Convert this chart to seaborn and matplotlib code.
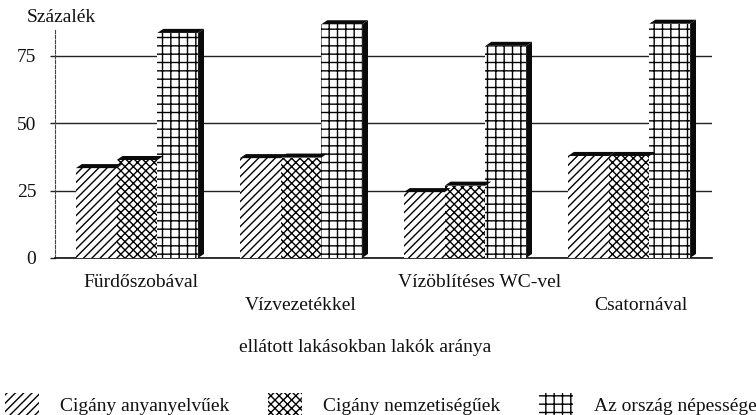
import matplotlib
matplotlib.use("Agg")
import matplotlib.pyplot as plt
import seaborn as sns
import pandas as pd
from matplotlib.patches import Patch, Polygon
from matplotlib.transforms import ScaledTranslation

categories = ["Fürdőszobával", "Vízvezetékkel", "Vízöblítéses WC-vel", "Csatornával"]
series_names = ["Cigány anyanyelvűek", "Cigány nemzetiségűek", "Az ország népessége"]
anyanyelvu = [33.3, 37, 24.4, 37.8]
nemzetisegu = [36.3, 37.2, 26.8, 37.8]
orszag = [83.4, 86.6, 78.6, 86.8]
yticks = [0, 25, 50, 75]
hatches = ["////", "xxxx", "++"]

sns.set_theme(style="white")
plt.rcParams["font.family"] = ["Liberation Serif", "DejaVu Serif"]
plt.rcParams["hatch.linewidth"] = 1.0
plt.rcParams["hatch.color"] = "black"

df = pd.DataFrame({
    "cat": categories * 3,
    "series": [s for s in series_names for _ in categories],
    "value": anyanyelvu + nemzetisegu + orszag,
})

fig = plt.figure(figsize=(7.56, 4.15), dpi=100)
ax = fig.add_axes([55/756, 1-258/415, (712-55)/756, (258-17)/415])

sns.barplot(data=df, x="cat", y="value", hue="series", order=categories,
            hue_order=series_names, width=0.745, gap=0, dodge=True,
            palette=["white"]*3, saturation=1, legend=False, ax=ax, zorder=3)

DX, DY = 0.036, 1.5
for k, (cont, h) in enumerate(zip(ax.containers, hatches)):
    for bar in cont:
        bar.set_hatch(h)
        bar.set_edgecolor("black")
        bar.set_linewidth(0)
        x0, w, v = bar.get_x(), bar.get_width(), bar.get_height()
        ax.add_patch(Polygon([(x0, v), (x0+w, v), (x0+w+DX, v+DY), (x0+DX, v+DY)],
                             closed=True, fc="#0a0a0a", ec="none", zorder=4, clip_on=False))
        if k == 2:
            ax.add_patch(Polygon([(x0+w, 0), (x0+w+DX, DY), (x0+w+DX, v+DY), (x0+w, v)],
                                 closed=True, fc="#0a0a0a", ec="none", zorder=4))

ax.set_xlim(-0.5, 3.506)
ax.set_ylim(0, 89.3)
ax.set_yticks(yticks)
ax.set_yticklabels([str(t) for t in yticks], fontsize=14, color="#111111")
ax.tick_params(axis="y", left=True, length=3.6, width=1, color="#222222", pad=9.8)
ax.yaxis.grid(True, color="#222222", linewidth=1)
ax.xaxis.grid(False)
ax.set_axisbelow(True)
for s in ["top", "right"]:
    ax.spines[s].set_visible(False)
ax.spines["bottom"].set_color("#111111")
ax.spines["bottom"].set_linewidth(1.2)
ax.spines["left"].set_color("#444444")
ax.spines["left"].set_linewidth(0.8)
ax.spines["left"].set_linestyle((0, (3, 1.5)))
ax.spines["left"].set_bounds(0, 84.5)

ax.set_xticks(range(len(categories)))
ax.set_xticklabels(categories, fontsize=14, color="#111111")
ax.tick_params(axis="x", bottom=False)
pads = [11.5, 28, 11.5, 28]
shifts_px = [4, 0, 15, 12]
for tick, p in zip(ax.xaxis.get_major_ticks(), pads):
    tick.set_pad(p)
for lab, dx in zip(ax.get_xticklabels(), shifts_px):
    lab.set_va("center")
    lab.set_transform(lab.get_transform() + ScaledTranslation(dx/100, 0, fig.dpi_scale_trans))

ax.set_xlabel("ellátott lakásokban lakók aránya", fontsize=14, color="#111111")
ax.xaxis.set_label_coords((365-55)/657, -(347-258)/241, transform=ax.transAxes)
ax.xaxis.label.set_va("center")
ax.set_ylabel("")

ax.text(27/756, 1-17/415, "Százalék", transform=fig.transFigure, fontsize=14,
        color="#111111", va="center", ha="left")

handles = [Patch(facecolor="white", edgecolor="black", hatch=h, linewidth=0) for h in hatches]
fig.legend(handles, series_names, ncol=3, frameon=False, fontsize=14,
           loc="center left", bbox_to_anchor=(5/756, 1-404/415), labelcolor="#111111",
           handlelength=1.75, handleheight=1.3, handletextpad=1.1, columnspacing=1.96,
           borderpad=0, borderaxespad=0)

fig.savefig("out.png", dpi=100)
